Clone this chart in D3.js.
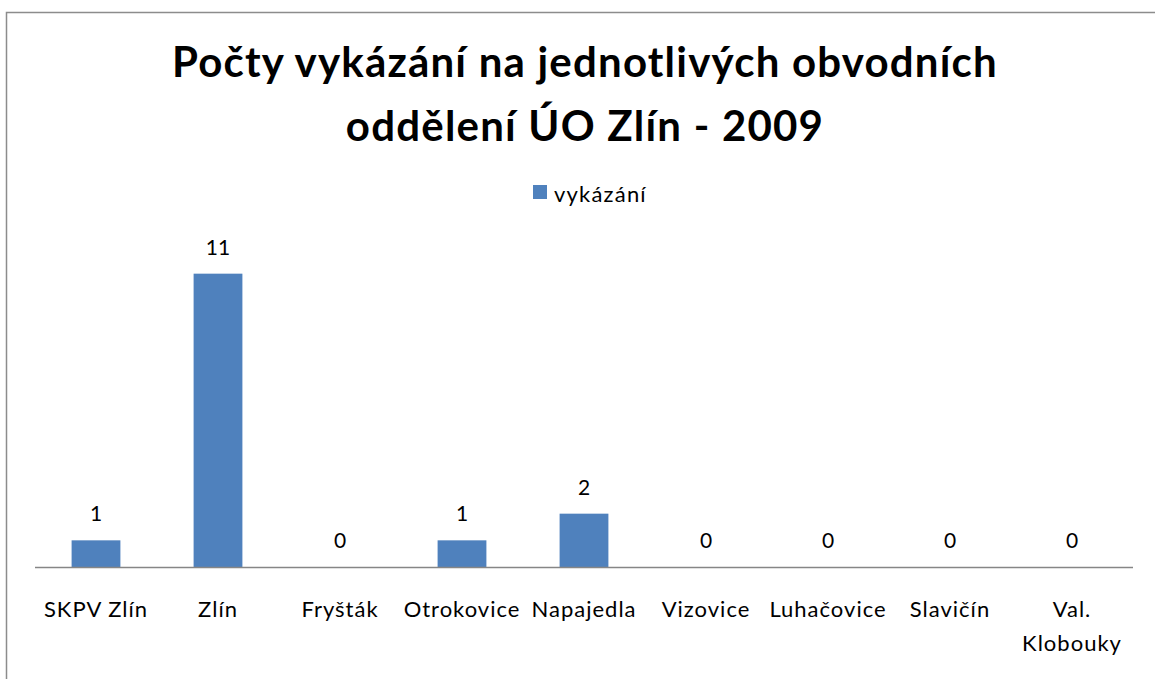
<!DOCTYPE html>
<html><head><meta charset="utf-8">
<script src="https://cdn.jsdelivr.net/npm/d3@7"></script>
<style>body{margin:0;background:#fff}svg{display:block}</style>
</head><body>
<script>
const categories = ["SKPV Zlín","Zlín","Fryšták","Otrokovice","Napajedla","Vizovice","Luhačovice","Slavičín","Val. Klobouky"];
const values = [1,11,0,1,2,0,0,0,0];
const seriesName = "vykázání";
const titleLines = ["Počty vykázání na jednotlivých obvodních","oddělení ÚO Zlín - 2009"];

const W=1155,H=679, font="Lato, 'Open Sans', sans-serif";
const svg=d3.select("body").append("svg").attr("width",W).attr("height",H);
svg.append("rect").attr("x",6.5).attr("y",12.5).attr("width",1160).attr("height",700)
  .attr("fill","#fff").attr("stroke","#8c8c8c").attr("stroke-width",1.5);

const x=d3.scaleBand().domain(categories).range([35,1133]).paddingInner(0.6).paddingOuter(0.3);
const y=d3.scaleLinear().domain([0,12]).range([567,247]);
const g=svg.append("g");
g.selectAll("rect.bar").data(values).join("rect").attr("class","bar")
  .attr("x",(d,i)=>x(categories[i])).attr("width",x.bandwidth())
  .attr("y",d=>y(d)).attr("height",d=>y(0)-y(d)).attr("fill","#4F81BD");

g.selectAll("text.val").data(values).join("text").attr("class","val")
  .attr("x",(d,i)=>x(categories[i])+x.bandwidth()/2).attr("y",d=>y(d)-19)
  .attr("text-anchor","middle").attr("font-family",font).attr("font-size",21).attr("fill","#000")
  .text(d=>d);

const axis=d3.axisBottom(x).tickSize(0).tickSizeOuter(0).tickPadding(0);
const ax=svg.append("g").attr("transform",`translate(0,${y(0)})`).call(axis);
ax.select(".domain").attr("stroke","#868686").attr("stroke-width",1.5).attr("d","M35,0.5H1133");
ax.selectAll(".tick text").remove();
ax.selectAll(".tick").each(function(d){
  const t=d3.select(this).append("text").attr("text-anchor","middle").attr("font-family",font)
    .attr("font-size",22).attr("letter-spacing",1).attr("fill","#000").attr("y",50);
  const parts = d==="Val. Klobouky"?["Val.","Klobouky"]:[d];
  parts.forEach((p,i)=>t.append("tspan").attr("x",0).attr("dy",i?34:0).text(p));
});

svg.selectAll("text.title").data(titleLines).join("text").attr("class","title")
  .attr("x",585).attr("y",(d,i)=>77+i*64).attr("text-anchor","middle")
  .attr("font-family",font).attr("font-weight","bold").attr("font-size",42).attr("letter-spacing",1.2)
  .attr("fill","#000").text(d=>d);

svg.append("rect").attr("x",533).attr("y",185).attr("width",14).attr("height",14).attr("fill","#4F81BD");
svg.append("text").attr("x",554).attr("y",202).attr("font-family",font).attr("font-size",22)
  .attr("letter-spacing",1.2).text(seriesName);
</script>
</body></html>
